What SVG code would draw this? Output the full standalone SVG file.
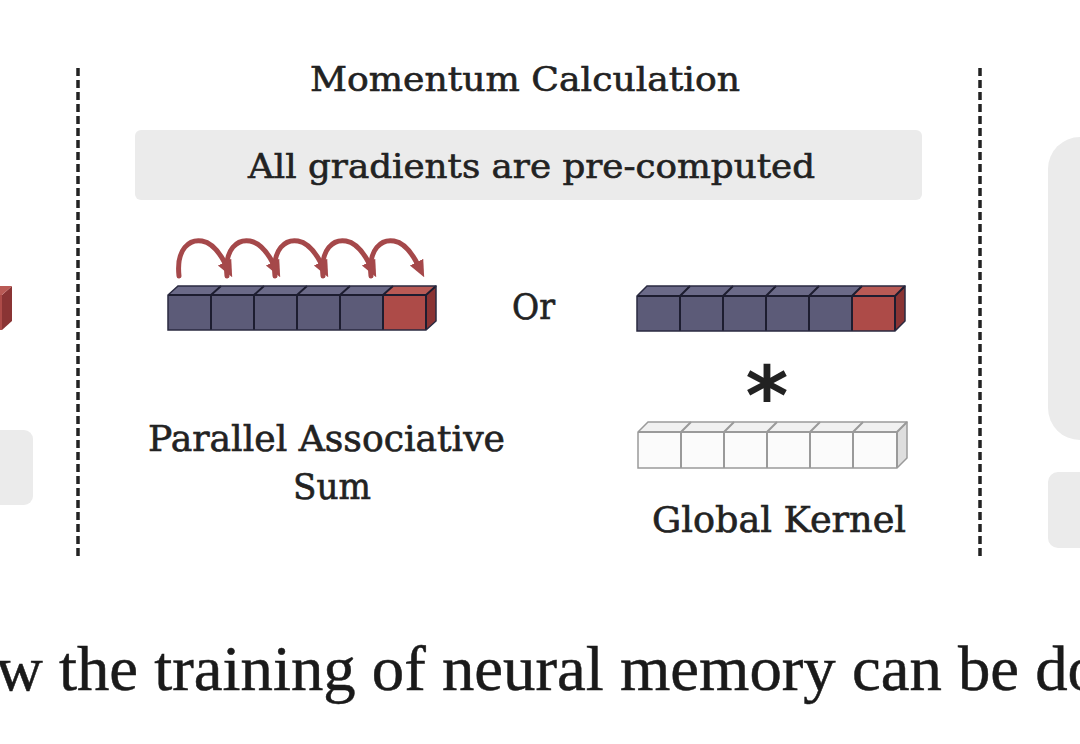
<svg xmlns="http://www.w3.org/2000/svg" width="1080" height="744" viewBox="0 0 1080 744">
<defs>
<style>
.t{font-family:"DejaVu Serif","Liberation Serif",serif;fill:#222;stroke:#222;stroke-width:0.6;}
.dash{stroke:#222;stroke-width:3.5;stroke-dasharray:8 4;fill:none;}
.gray{fill:#ebebeb;}
.pf{fill:#5c5b78;}
.pt{fill:#6b6a88;}
.rf{fill:#ad4b48;}
.rt{fill:#b95a55;}
.rs{fill:#8a3434;}
.div{stroke:#1d1d30;stroke-width:2;fill:none;}
.wf{fill:#fbfbfb;}
.wt{fill:#f1f1f1;}
.ws{fill:#dedede;}
.wdiv{stroke:#9a9a9a;stroke-width:2;fill:none;}
.arc{stroke:#a5484a;stroke-width:5;fill:none;stroke-linecap:round;}
</style>
<marker id="ah" markerUnits="userSpaceOnUse" markerWidth="17" markerHeight="17" viewBox="0 0 16 16" refX="3" refY="8" orient="auto">
<path d="M0,1 L16,8 L0,15 z" fill="#a5484a"/>
</marker>
</defs>
<rect width="1080" height="744" fill="#ffffff"/>

<g id="dividers">
<line class="dash" x1="78" y1="68" x2="78" y2="560"/>
<line class="dash" x1="980" y1="68" x2="980" y2="560"/>
</g>

<g id="left-fragment">
<rect x="-40" y="295" width="42" height="35" class="rf"/>
<polygon points="2,295 12,286 12,321 2,330" class="rs"/>
<polygon points="-30,286 12,286 2,295 -40,295" class="rt"/>
<rect x="-20" y="430" width="53" height="75" rx="9" class="gray"/>
</g>

<g id="right-fragment">
<rect x="1048" y="137" width="70" height="303" rx="32" class="gray"/>
<rect x="1048" y="472" width="70" height="76" rx="10" class="gray"/>
</g>

<g id="title">
<text class="t" x="525" y="91" font-size="33" text-anchor="middle" textLength="430" lengthAdjust="spacingAndGlyphs">Momentum Calculation</text>
</g>

<g id="precomputed">
<rect x="135" y="130" width="787" height="70" rx="6" class="gray"/>
<text class="t" x="248" y="178" font-size="34" textLength="567" lengthAdjust="spacingAndGlyphs">All gradients are pre-computed</text>
</g>

<g id="assoc-row" transform="translate(168,295)">
<polygon points="0,0 10,-9 268,-9 258,0" class="pt"/>
<polygon points="215,0 225,-9 268,-9 258,0" class="rt"/>
<rect x="0" y="0" width="215" height="35" class="pf"/>
<rect x="215" y="0" width="43" height="35" class="rf"/>
<polygon points="258,0 268,-9 268,26 258,35" class="rs"/>
<path class="div" d="M43,0V35M86,0V35M129,0V35M172,0V35M215,0V35M258,0V35M43,0l10,-9M86,0l10,-9M129,0l10,-9M172,0l10,-9M215,0l10,-9M258,0l10,-9M0,0H258"/>
<path d="M0,0 L10,-9 H268 V26 L258,35 H0 Z" fill="none" stroke="#2a2a40" stroke-width="1.5"/>
</g>

<g id="assoc-label">
<text class="t" x="148" y="451" font-size="35" textLength="357" lengthAdjust="spacingAndGlyphs">Parallel Associative</text>
<text class="t" x="293" y="499" font-size="35" textLength="78" lengthAdjust="spacingAndGlyphs">Sum</text>
</g>

<g id="or-label">
<text class="t" x="512" y="319" font-size="35" textLength="43" lengthAdjust="spacingAndGlyphs">Or</text>
</g>

<g id="gradient-row" transform="translate(637,296)">
<polygon points="0,0 10,-10 268,-10 258,0" class="pt"/>
<polygon points="215,0 225,-10 268,-10 258,0" class="rt"/>
<rect x="0" y="0" width="215" height="35" class="pf"/>
<rect x="215" y="0" width="43" height="35" class="rf"/>
<polygon points="258,0 268,-10 268,25 258,35" class="rs"/>
<path class="div" d="M43,0V35M86,0V35M129,0V35M172,0V35M215,0V35M258,0V35M43,0l10,-10M86,0l10,-10M129,0l10,-10M172,0l10,-10M215,0l10,-10M258,0l10,-10M0,0H258"/>
<path d="M0,0 L10,-10 H268 V25 L258,35 H0 Z" fill="none" stroke="#2a2a40" stroke-width="1.5"/>
</g>

<g id="conv-op">
<text x="767" y="425" font-family="DejaVu Sans, sans-serif" font-weight="bold" font-size="82" fill="#222" text-anchor="middle">*</text>
</g>

<g id="kernel-row" transform="translate(638,432)">
<polygon points="0,0 10,-10 269,-10 259,0" class="wt"/>
<rect x="0" y="0" width="259" height="36" class="wf"/>
<polygon points="259,0 269,-10 269,26 259,36" class="ws"/>
<path class="wdiv" d="M43,0V36M86,0V36M129,0V36M172,0V36M215,0V36M259,0V36M43,0l10,-10M86,0l10,-10M129,0l10,-10M172,0l10,-10M215,0l10,-10M259,0l10,-10M0,0H259"/>
<path d="M0,0 L10,-10 H269 V26 L259,36 H0 Z" fill="none" stroke="#9a9a9a" stroke-width="1.5"/>
</g>

<g id="kernel-label">
<text class="t" x="652" y="532" font-size="35" textLength="254" lengthAdjust="spacingAndGlyphs">Global Kernel</text>
</g>

<g id="connectors">
<path class="arc" marker-end="url(#ah)" d="M179,276 C176,248 190,239 202,241 C214,243 222,257 226,265"/>
<path class="arc" marker-end="url(#ah)" d="M227,276 C224,248 238,239 250,241 C262,243 270,257 274,265"/>
<path class="arc" marker-end="url(#ah)" d="M275,276 C272,248 286,239 298,241 C310,243 318,257 322,265"/>
<path class="arc" marker-end="url(#ah)" d="M323,276 C320,248 334,239 346,241 C358,243 366,257 370,265"/>
<path class="arc" marker-end="url(#ah)" d="M371,276 C368,248 382,239 394,241 C406,243 414,257 418,265"/>
</g>

<g id="caption">
<text x="-4" y="690" font-family="Liberation Serif, serif" font-size="64" fill="#1a1a1a" stroke="#1a1a1a" stroke-width="0.5" textLength="1104" lengthAdjust="spacingAndGlyphs">w the training of neural memory can be do</text>
</g>
</svg>
